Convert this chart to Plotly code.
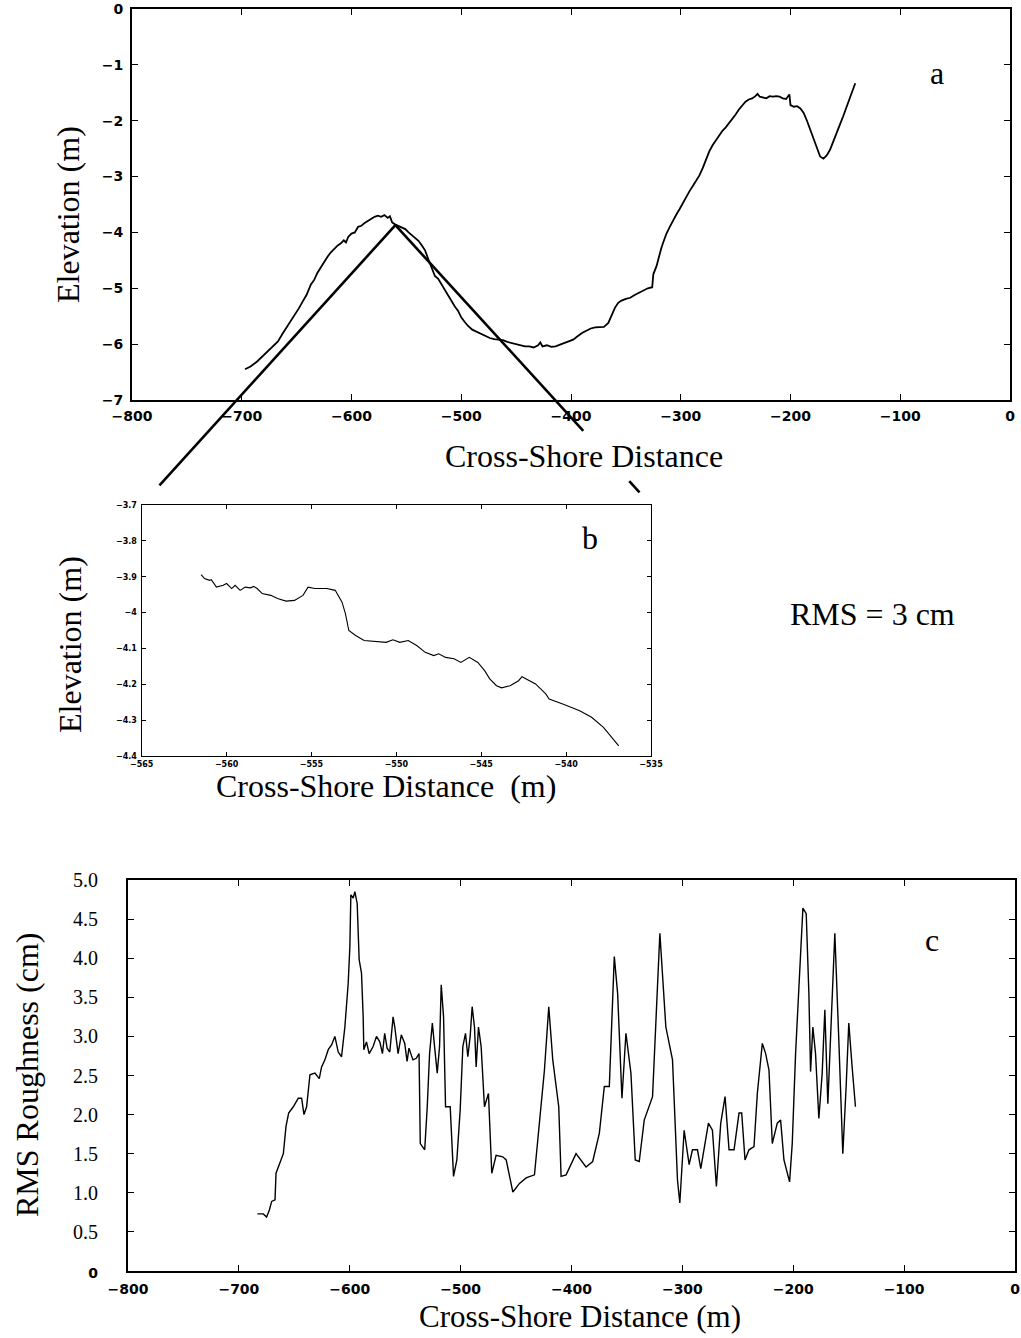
import plotly.graph_objects as go

W, H = 1021, 1338

# ---------------- Panel a: elevation profile ----------------
prof_x = [-697, -692, -686, -681, -676, -671, -667, -663, -659, -656, -652, -648, -644, -641,
          -637, -634, -631, -628, -625, -622, -619, -616, -613, -610, -607, -605, -603, -600,
          -597, -594, -591, -588, -585, -582, -579, -576, -573, -570, -567, -565, -563, -560,
          -557, -554, -551, -548, -545, -542, -539, -536, -533, -530, -527, -524, -521, -518,
          -515, -512, -509, -506, -503, -500, -497, -494, -490, -486, -482, -478, -474, -470,
          -466, -462, -458, -454, -450, -446, -442, -438, -434, -430, -428, -426, -422, -418,
          -414, -410, -406, -402, -398, -394, -390, -386, -382, -378, -374, -370, -366, -363,
          -360, -357, -354, -350, -346, -342, -338, -334, -330, -326, -325, -322, -320, -318,
          -316, -313, -310, -307, -304, -301, -298, -295, -292, -289, -286, -283, -280, -277,
          -274, -271, -268, -265, -262, -259, -256, -253, -250, -247, -244, -241, -238, -235,
          -232, -230, -228, -225, -222, -219, -216, -213, -210, -207, -204, -201, -200, -197,
          -194, -191, -188, -185, -182, -179, -176, -173, -170, -167, -164, -161, -158, -155,
          -152, -149, -146, -143, -141]
prof_y = [-6.45, -6.40, -6.31, -6.22, -6.12, -6.03, -5.95, -5.82, -5.70, -5.62, -5.50, -5.36,
          -5.22, -5.12, -4.93, -4.85, -4.72, -4.62, -4.52, -4.44, -4.36, -4.30, -4.24, -4.20,
          -4.14, -4.18, -4.08, -4.02, -4.00, -3.90, -3.88, -3.83, -3.79, -3.76, -3.72, -3.70,
          -3.72, -3.69, -3.74, -3.71, -3.82, -3.86, -3.89, -3.91, -3.94, -4.00, -4.05, -4.09,
          -4.15, -4.23, -4.32, -4.48, -4.62, -4.78, -4.83, -4.93, -5.02, -5.12, -5.22, -5.32,
          -5.40, -5.52, -5.60, -5.67, -5.74, -5.78, -5.82, -5.86, -5.89, -5.91, -5.92, -5.93,
          -5.96, -5.98, -6.00, -6.02, -6.04, -6.04, -6.06, -6.02, -5.97, -6.04, -6.02, -6.05,
          -6.04, -6.01, -5.98, -5.94, -5.92, -5.86, -5.80, -5.76, -5.72, -5.70, -5.70, -5.69,
          -5.62, -5.48, -5.35, -5.26, -5.22, -5.19, -5.17, -5.12, -5.08, -5.03, -5.00, -4.98,
          -4.75, -4.60, -4.43, -4.30, -4.18, -4.02, -3.90, -3.78, -3.68, -3.58, -3.47, -3.36,
          -3.26, -3.17, -3.08, -2.98, -2.85, -2.70, -2.55, -2.44, -2.35, -2.25, -2.18, -2.12,
          -2.05, -1.97, -1.89, -1.80, -1.73, -1.66, -1.62, -1.60, -1.56, -1.52, -1.57, -1.58,
          -1.60, -1.56, -1.57, -1.56, -1.57, -1.60, -1.61, -1.53, -1.72, -1.75, -1.74, -1.78,
          -1.86, -2.00, -2.16, -2.34, -2.50, -2.64, -2.68, -2.62, -2.52, -2.36, -2.22, -2.07,
          -1.92, -1.75, -1.60, -1.43, -1.33]

# ---------------- Panel b: zoomed section ----------------
zoom_x = [-561.5, -561.3, -561.0, -560.9, -560.6, -560.2, -560.0, -559.7, -559.5, -559.2,
          -558.9, -558.6, -558.4, -558.2, -557.9, -557.4, -557.0, -556.5, -556.0, -555.5,
          -555.2, -554.8, -554.1, -553.6, -553.2, -553.0, -552.8, -552.4, -551.9, -551.2,
          -550.6, -550.2, -549.8, -549.3, -548.8, -548.3, -547.8, -547.5, -547.1, -546.6,
          -546.2, -545.7, -545.2, -544.8, -544.5, -544.1, -543.8, -543.3, -542.8, -542.6,
          -542.2, -541.8, -541.2, -541.0, -540.2, -539.2, -538.5, -537.8, -536.9]
zoom_y = [-3.894, -3.905, -3.910, -3.908, -3.929, -3.924, -3.919, -3.933, -3.924, -3.938,
          -3.929, -3.931, -3.927, -3.933, -3.947, -3.952, -3.961, -3.968, -3.966, -3.952,
          -3.929, -3.933, -3.933, -3.938, -3.971, -4.003, -4.050, -4.064, -4.078, -4.080,
          -4.083, -4.076, -4.083, -4.078, -4.092, -4.111, -4.120, -4.115, -4.125, -4.129,
          -4.139, -4.125, -4.139, -4.162, -4.185, -4.204, -4.210, -4.204, -4.190, -4.179,
          -4.188, -4.199, -4.227, -4.241, -4.255, -4.274, -4.292, -4.320, -4.372]

# ---------------- Panel c: RMS roughness ----------------
rms_x = [-683.3, -678.0, -675.0, -672.5, -670.4, -667.4, -666.5, -662.9, -659.9, -657.5,
         -655.1, -650.9, -646.4, -643.4, -641.3, -638.9, -635.9, -631.4, -627.5, -625.4,
         -622.4, -619.4, -616.4, -613.4, -610.4, -607.4, -605.9, -604.4, -601.4, -599.9,
         -599.0, -596.9, -595.4, -593.3, -591.5, -589.4, -587.9, -587.3, -584.9, -582.5,
         -578.9, -575.9, -572.9, -570.5, -568.5, -566.3, -563.9, -560.9, -559.4, -556.4,
         -553.5, -550.4, -548.3, -546.6, -543.0, -540.0, -537.5, -536.4, -532.4, -530.1,
         -528.0, -525.5, -523.5, -521.1, -519.0, -517.5, -515.4, -513.6, -509.4, -506.4,
         -503.4, -500.4, -498.0, -495.6, -493.5, -491.4, -489.6, -487.5, -486.0, -483.9,
         -481.5, -478.5, -474.9, -471.9, -468.0, -462.0, -458.9, -452.9, -446.9, -440.9,
         -433.4, -428.9, -424.4, -420.5, -416.9, -411.5, -409.4, -404.9, -395.9, -386.9,
         -380.9, -374.9, -370.4, -365.9, -361.4, -358.4, -354.5, -350.9, -346.4, -342.5,
         -338.9, -334.4, -326.9, -320.3, -314.9, -308.9, -304.4, -302.3, -298.4, -293.9,
         -290.9, -286.4, -283.4, -276.5, -272.9, -269.3, -265.4, -261.5, -257.9, -253.4,
         -248.9, -246.5, -243.5, -239.9, -235.4, -232.4, -227.9, -224.9, -221.9, -218.9,
         -214.4, -211.4, -208.4, -203.3, -200.9, -197.9, -193.4, -191.3, -188.3, -185.9,
         -184.4, -182.3, -179.9, -176.9, -173.9, -171.5, -168.8, -166.4, -162.5, -158.9,
         -155.3, -152.3, -149.9, -146.9, -143.9]
rms_y = [0.73, 0.73, 0.69, 0.78, 0.89, 0.91, 1.25, 1.40, 1.50, 1.85,
         2.02, 2.10, 2.21, 2.21, 2.00, 2.10, 2.51, 2.53, 2.46, 2.61,
         2.70, 2.83, 2.89, 3.00, 2.80, 2.74, 2.93, 3.12, 3.68, 4.15,
         4.81, 4.77, 4.85, 4.70, 3.98, 3.81, 3.25, 2.83, 2.93, 2.78,
         2.87, 3.00, 2.93, 2.78, 3.04, 2.85, 2.80, 3.25, 3.12, 2.78,
         3.02, 2.91, 2.68, 2.85, 2.70, 2.72, 2.78, 1.63, 1.55, 2.10,
         2.78, 3.17, 2.87, 2.53, 2.87, 3.66, 3.25, 2.10, 2.10, 1.21,
         1.42, 2.06, 2.87, 3.04, 2.74, 3.00, 3.38, 3.12, 2.61, 3.12,
         2.87, 2.10, 2.27, 1.25, 1.48, 1.46, 1.42, 1.01, 1.12, 1.19,
         1.23, 1.93, 2.57, 3.38, 2.70, 2.10, 1.21, 1.23, 1.50, 1.33,
         1.40, 1.76, 2.36, 2.36, 4.02, 3.55, 2.21, 3.04, 2.53, 1.42,
         1.40, 1.93, 2.23, 4.32, 3.12, 2.70, 1.16, 0.87, 1.80, 1.36,
         1.55, 1.55, 1.31, 1.89, 1.80, 1.08, 1.89, 2.23, 1.55, 1.55,
         2.02, 2.02, 1.42, 1.55, 1.59, 2.27, 2.91, 2.78, 2.57, 1.63,
         1.89, 1.93, 1.42, 1.14, 1.63, 2.78, 3.98, 4.64, 4.57, 3.55,
         2.55, 3.12, 2.78, 1.95, 2.53, 3.34, 2.14, 2.95, 4.32, 2.95,
         1.50, 2.36, 3.17, 2.61, 2.10]

# ---------------- Ticks / labels ----------------
dist_ticks = [-800, -700, -600, -500, -400, -300, -200, -100, 0]
elev_ticks = [-7, -6, -5, -4, -3, -2, -1, 0]
zoom_xticks = [-565, -560, -555, -550, -545, -540, -535]
zoom_yticks = [-4.4, -4.3, -4.2, -4.1, -4.0, -3.9, -3.8, -3.7]
rms_ticks = [0, 0.5, 1.0, 1.5, 2.0, 2.5, 3.0, 3.5, 4.0, 4.5, 5.0]
rms_ticklabels = ['<span style="font-family:DejaVu Sans;font-size:14px;font-weight:bold">0</span>',
                  "0.5", "1.0", "1.5", "2.0", "2.5", "3.0", "3.5", "4.0", "4.5", "5.0"]
zoom_anchor = (-560, -3.87)   # point of panel a enlarged in panel b


def fx(px):
    return px / W


def fy(py):
    return 1 - py / H


dom_a = dict(x=[fx(132), fx(1010)], y=[fy(400), fy(9)])
dom_b = dict(x=[fx(141.7), fx(651)], y=[fy(756), fy(505)])
dom_c = dict(x=[fx(128), fx(1015)], y=[fy(1271), fy(880)])

SERIF = "Liberation Serif, Times New Roman, serif"
SANS = "DejaVu Sans, Verdana, sans-serif"

fig = go.Figure()
fig.add_trace(go.Scatter(x=prof_x, y=prof_y, mode="lines", xaxis="x", yaxis="y",
                         line=dict(color="black", width=1.8), showlegend=False))
fig.add_trace(go.Scatter(x=zoom_x, y=zoom_y, mode="lines", xaxis="x2", yaxis="y2",
                         line=dict(color="black", width=1.1), showlegend=False))
fig.add_trace(go.Scatter(x=rms_x, y=rms_y, mode="lines", xaxis="x3", yaxis="y3",
                         line=dict(color="black", width=1.4), showlegend=False))


def axis(**kw):
    base = dict(showline=True, linecolor="black", linewidth=1.8, mirror="allticks",
                ticks="inside", ticklen=6, tickwidth=1.3, tickcolor="black",
                showgrid=False, zeroline=False,
                tickfont=dict(family=SANS, size=14, color="black", weight="bold"))
    base.update(kw)
    return base


fig.update_layout(
    width=W, height=H,
    margin=dict(l=0, r=0, t=0, b=0, autoexpand=False),
    paper_bgcolor="white", plot_bgcolor="white",
    xaxis=axis(domain=dom_a["x"], anchor="y", range=[-800, 0], tickvals=dist_ticks,
               ticklabelstandoff=2),
    yaxis=axis(domain=dom_a["y"], anchor="x", range=[-7, 0], tickvals=elev_ticks,
               ticklabelstandoff=4),
    xaxis2=axis(domain=dom_b["x"], anchor="y2", range=[-565, -535], tickvals=zoom_xticks,
                ticklen=4, tickwidth=1, linewidth=1.4, ticklabelstandoff=0,
                tickfont=dict(family=SANS, size=8, color="black", weight="bold")),
    yaxis2=axis(domain=dom_b["y"], anchor="x2", range=[-4.4, -3.7], tickvals=zoom_yticks,
                ticklen=4, tickwidth=1, linewidth=1.4, ticklabelstandoff=2,
                tickfont=dict(family=SANS, size=8, color="black", weight="bold")),
    xaxis3=axis(domain=dom_c["x"], anchor="y3", range=[-800, 0], tickvals=dist_ticks,
                ticklabelstandoff=4),
    yaxis3=axis(domain=dom_c["y"], anchor="x3", range=[0, 5], tickvals=rms_ticks,
                ticktext=rms_ticklabels, ticklabelstandoff=24,
                tickfont=dict(family=SERIF, size=20, color="black")),
)


def ann(text, px, py, size=32, angle=0):
    fig.add_annotation(text=text, x=fx(px), y=fy(py), xref="paper", yref="paper",
                       showarrow=False, textangle=angle, xanchor="center", yanchor="middle",
                       font=dict(family=SERIF, size=size, color="black"))


# axis titles
ann("Cross-Shore Distance", 584, 456)
ann("Elevation (m)", 68, 215, angle=-90)
ann("Cross-Shore Distance\u00a0 (m)", 386, 786)
ann("Elevation (m)", 70, 645, angle=-90)
ann("Cross-Shore Distance (m)", 580, 1316, size=31)
ann("RMS Roughness (cm)", 27, 1075, angle=-90)
# panel labels and note
ann("a", 937, 73)
ann("b", 590, 538)
ann("c", 932, 940)
ann("RMS = 3 cm", 872, 614)


# connector lines from the zoomed point in panel a toward panel b
def a_to_paper(x, y):
    px = dom_a["x"][0] + (x + 800) / 800 * (dom_a["x"][1] - dom_a["x"][0])
    py = dom_a["y"][0] + (y + 7) / 7 * (dom_a["y"][1] - dom_a["y"][0])
    return px, py


ax0, ay0 = a_to_paper(*zoom_anchor)
corners = [(dom_b["x"][0], dom_b["y"][1]), (dom_b["x"][1], dom_b["y"][1])]
segments = [(0, [(0.0, 0.93)]), (1, [(0.0, 0.735), (0.915, 0.955)])]
for ci, parts in segments:
    cx, cy = corners[ci]
    for t0, t1 in parts:
        fig.add_shape(type="line", xref="paper", yref="paper",
                      x0=ax0 + t0 * (cx - ax0), y0=ay0 + t0 * (cy - ay0),
                      x1=ax0 + t1 * (cx - ax0), y1=ay0 + t1 * (cy - ay0),
                      line=dict(color="black", width=2.6))

fig.write_html("out.html")
